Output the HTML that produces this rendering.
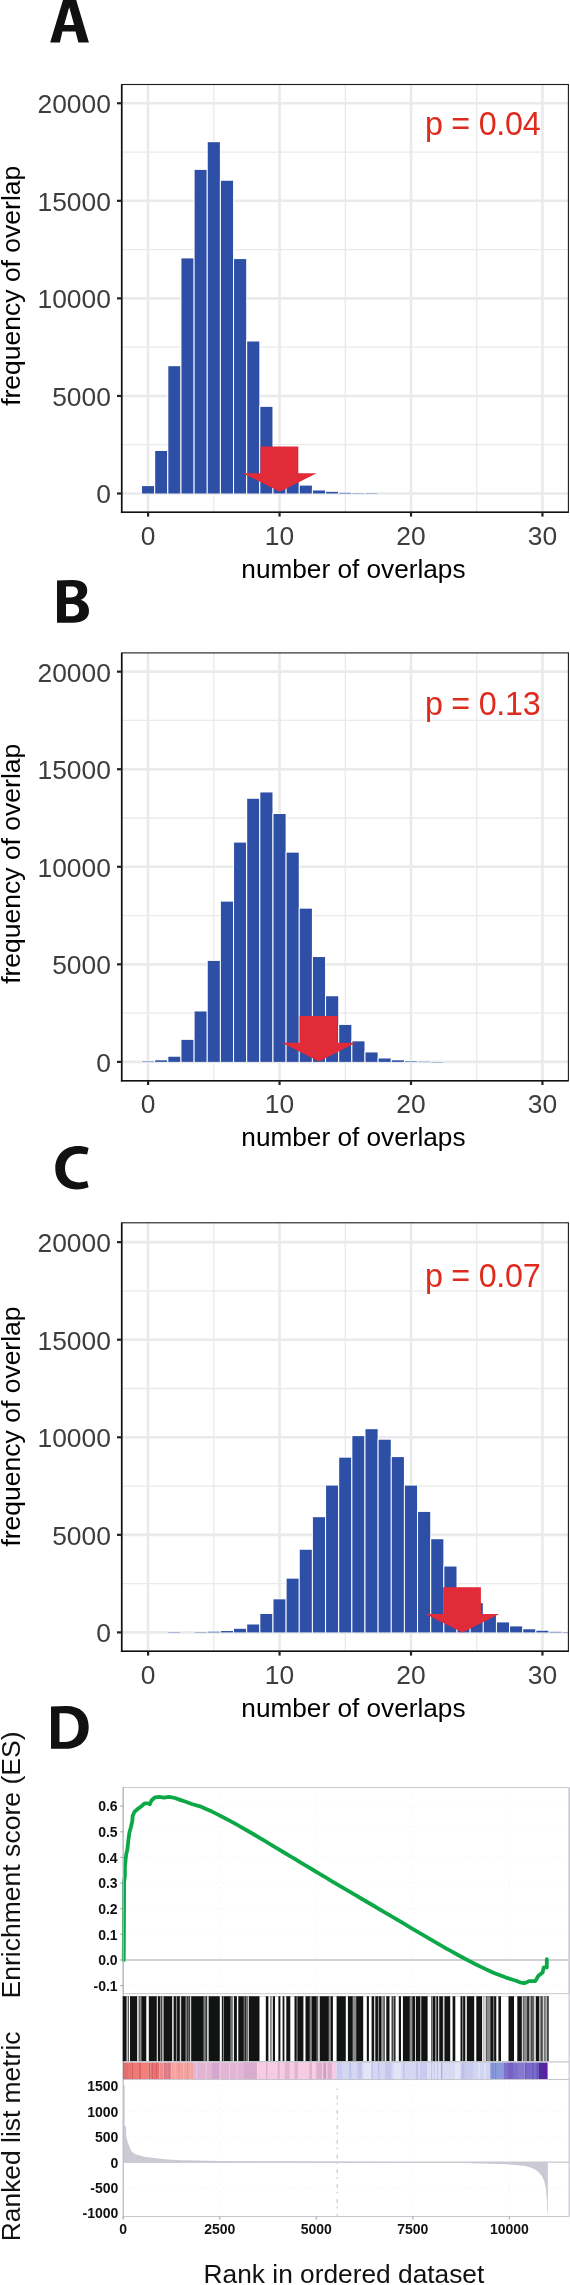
<!DOCTYPE html>
<html><head><meta charset="utf-8"><style>
html,body{margin:0;padding:0;background:#fff;}
svg{display:block;}
text{font-family:"Liberation Sans", sans-serif;}
</style></head><body>
<svg style="will-change:transform" width="570" height="2285" viewBox="0 0 570 2285">
<rect width="570" height="2285" fill="#fff"/>
<g>
<clipPath id="clipA"><rect x="121.7" y="84.5" width="446.7" height="427.8"/></clipPath>
<g clip-path="url(#clipA)">
<line x1="121.7" x2="568.4" y1="444.72" y2="444.72" stroke="#E9EAEA" stroke-width="1.3"/>
<line x1="121.7" x2="568.4" y1="347.16" y2="347.16" stroke="#E9EAEA" stroke-width="1.3"/>
<line x1="121.7" x2="568.4" y1="249.6" y2="249.6" stroke="#E9EAEA" stroke-width="1.3"/>
<line x1="121.7" x2="568.4" y1="152.04" y2="152.04" stroke="#E9EAEA" stroke-width="1.3"/>
<line x1="213.82" x2="213.82" y1="84.5" y2="512.3" stroke="#E9EAEA" stroke-width="1.3"/>
<line x1="345.27" x2="345.27" y1="84.5" y2="512.3" stroke="#E9EAEA" stroke-width="1.3"/>
<line x1="476.73" x2="476.73" y1="84.5" y2="512.3" stroke="#E9EAEA" stroke-width="1.3"/>
<line x1="121.7" x2="568.4" y1="493.5" y2="493.5" stroke="#E9EAEA" stroke-width="2.6"/>
<line x1="121.7" x2="568.4" y1="395.94" y2="395.94" stroke="#E9EAEA" stroke-width="2.6"/>
<line x1="121.7" x2="568.4" y1="298.38" y2="298.38" stroke="#E9EAEA" stroke-width="2.6"/>
<line x1="121.7" x2="568.4" y1="200.82" y2="200.82" stroke="#E9EAEA" stroke-width="2.6"/>
<line x1="121.7" x2="568.4" y1="103.26" y2="103.26" stroke="#E9EAEA" stroke-width="2.6"/>
<line x1="148.1" x2="148.1" y1="84.5" y2="512.3" stroke="#E9EAEA" stroke-width="2.6"/>
<line x1="279.55" x2="279.55" y1="84.5" y2="512.3" stroke="#E9EAEA" stroke-width="2.6"/>
<line x1="411" x2="411" y1="84.5" y2="512.3" stroke="#E9EAEA" stroke-width="2.6"/>
<line x1="542.45" x2="542.45" y1="84.5" y2="512.3" stroke="#E9EAEA" stroke-width="2.6"/>
<rect x="141.03" y="485.29" width="14.14" height="8.21" fill="#fff"/>
<rect x="142.03" y="486.09" width="12.14" height="7.41" fill="#2E4FA6"/>
<rect x="154.17" y="450.19" width="14.14" height="43.31" fill="#fff"/>
<rect x="155.17" y="450.99" width="12.14" height="42.51" fill="#2E4FA6"/>
<rect x="167.32" y="365.39" width="14.14" height="128.11" fill="#fff"/>
<rect x="168.32" y="366.19" width="12.14" height="127.31" fill="#2E4FA6"/>
<rect x="180.46" y="257.59" width="14.14" height="235.91" fill="#fff"/>
<rect x="181.46" y="258.39" width="12.14" height="235.11" fill="#2E4FA6"/>
<rect x="193.61" y="169.1" width="14.14" height="324.4" fill="#fff"/>
<rect x="194.61" y="169.9" width="12.14" height="323.6" fill="#2E4FA6"/>
<rect x="206.75" y="141.39" width="14.14" height="352.11" fill="#fff"/>
<rect x="207.75" y="142.19" width="12.14" height="351.31" fill="#2E4FA6"/>
<rect x="219.9" y="179.97" width="14.14" height="313.53" fill="#fff"/>
<rect x="220.9" y="180.77" width="12.14" height="312.73" fill="#2E4FA6"/>
<rect x="233.04" y="258.27" width="14.14" height="235.23" fill="#fff"/>
<rect x="234.04" y="259.07" width="12.14" height="234.43" fill="#2E4FA6"/>
<rect x="246.19" y="340.69" width="14.14" height="152.81" fill="#fff"/>
<rect x="247.19" y="341.49" width="12.14" height="152.01" fill="#2E4FA6"/>
<rect x="259.33" y="406.09" width="14.14" height="87.41" fill="#fff"/>
<rect x="260.33" y="406.89" width="12.14" height="86.61" fill="#2E4FA6"/>
<rect x="272.48" y="449.1" width="14.14" height="44.4" fill="#fff"/>
<rect x="273.48" y="449.9" width="12.14" height="43.6" fill="#2E4FA6"/>
<rect x="285.62" y="473.49" width="14.14" height="20.01" fill="#fff"/>
<rect x="286.62" y="474.29" width="12.14" height="19.21" fill="#2E4FA6"/>
<rect x="298.77" y="484.8" width="14.14" height="8.7" fill="#fff"/>
<rect x="299.77" y="485.6" width="12.14" height="7.9" fill="#2E4FA6"/>
<rect x="311.91" y="489.68" width="14.14" height="3.82" fill="#fff"/>
<rect x="312.91" y="490.48" width="12.14" height="3.02" fill="#2E4FA6"/>
<rect x="325.06" y="491.05" width="14.14" height="2.45" fill="#fff"/>
<rect x="326.06" y="491.85" width="12.14" height="1.65" fill="#2E4FA6"/>
<rect x="338.2" y="492.02" width="14.14" height="1.48" fill="#fff"/>
<rect x="339.2" y="492.82" width="12.14" height="0.68" fill="#2E4FA6"/>
<rect x="351.35" y="492.45" width="14.14" height="1.05" fill="#fff"/>
<rect x="352.35" y="493.25" width="12.14" height="0.35" fill="#2E4FA6"/>
<rect x="364.49" y="492.69" width="14.14" height="0.81" fill="#fff"/>
<rect x="365.49" y="493.49" width="12.14" height="0.35" fill="#2E4FA6"/>
<polygon points="260.5,446.4 298.3,446.4 298.3,473.2 316.6,473.2 280,491.8 242.8,473.2 260.5,473.2" fill="#E22B38"/>
</g>
<text x="425.0" y="135.4" font-size="32.3" fill="#DF2A1E" textLength="115.65" lengthAdjust="spacing">p = 0.04</text>
<rect x="121.7" y="84.5" width="446.7" height="427.8" fill="none" stroke="#1a1a1a" stroke-width="1.1"/>
<line x1="121.7" x2="121.7" y1="84.5" y2="513.1" stroke="#111" stroke-width="1.6"/>
<line x1="120.9" x2="568.4" y1="512.3" y2="512.3" stroke="#111" stroke-width="1.6"/>
<line x1="117" x2="121.7" y1="493.5" y2="493.5" stroke="#222" stroke-width="2.2"/>
<text x="110.9" y="503.4" font-size="26.4" fill="#3D3D3D" text-anchor="end">0</text>
<line x1="117" x2="121.7" y1="395.94" y2="395.94" stroke="#222" stroke-width="2.2"/>
<text x="110.9" y="405.84" font-size="26.4" fill="#3D3D3D" text-anchor="end">5000</text>
<line x1="117" x2="121.7" y1="298.38" y2="298.38" stroke="#222" stroke-width="2.2"/>
<text x="110.9" y="308.28" font-size="26.4" fill="#3D3D3D" text-anchor="end">10000</text>
<line x1="117" x2="121.7" y1="200.82" y2="200.82" stroke="#222" stroke-width="2.2"/>
<text x="110.9" y="210.72" font-size="26.4" fill="#3D3D3D" text-anchor="end">15000</text>
<line x1="117" x2="121.7" y1="103.26" y2="103.26" stroke="#222" stroke-width="2.2"/>
<text x="110.9" y="113.16" font-size="26.4" fill="#3D3D3D" text-anchor="end">20000</text>
<line x1="148.1" x2="148.1" y1="512.3" y2="516.6" stroke="#222" stroke-width="2.2"/>
<text x="148.1" y="544.8" font-size="26.4" fill="#3D3D3D" text-anchor="middle">0</text>
<line x1="279.55" x2="279.55" y1="512.3" y2="516.6" stroke="#222" stroke-width="2.2"/>
<text x="279.55" y="544.8" font-size="26.4" fill="#3D3D3D" text-anchor="middle">10</text>
<line x1="411" x2="411" y1="512.3" y2="516.6" stroke="#222" stroke-width="2.2"/>
<text x="411" y="544.8" font-size="26.4" fill="#3D3D3D" text-anchor="middle">20</text>
<line x1="542.45" x2="542.45" y1="512.3" y2="516.6" stroke="#222" stroke-width="2.2"/>
<text x="542.45" y="544.8" font-size="26.4" fill="#3D3D3D" text-anchor="middle">30</text>
<text x="353.4" y="577.9" font-size="26.2" fill="#000" text-anchor="middle">number of overlaps</text>
<text transform="translate(20,285.8) rotate(-90)" font-size="26.5" fill="#000" text-anchor="middle">frequency of overlap</text>
</g>
<g>
<clipPath id="clipB"><rect x="121.7" y="652.9" width="446.7" height="427.8"/></clipPath>
<g clip-path="url(#clipB)">
<line x1="121.7" x2="568.4" y1="1013.12" y2="1013.12" stroke="#E9EAEA" stroke-width="1.3"/>
<line x1="121.7" x2="568.4" y1="915.56" y2="915.56" stroke="#E9EAEA" stroke-width="1.3"/>
<line x1="121.7" x2="568.4" y1="818" y2="818" stroke="#E9EAEA" stroke-width="1.3"/>
<line x1="121.7" x2="568.4" y1="720.44" y2="720.44" stroke="#E9EAEA" stroke-width="1.3"/>
<line x1="213.82" x2="213.82" y1="652.9" y2="1080.7" stroke="#E9EAEA" stroke-width="1.3"/>
<line x1="345.27" x2="345.27" y1="652.9" y2="1080.7" stroke="#E9EAEA" stroke-width="1.3"/>
<line x1="476.73" x2="476.73" y1="652.9" y2="1080.7" stroke="#E9EAEA" stroke-width="1.3"/>
<line x1="121.7" x2="568.4" y1="1061.9" y2="1061.9" stroke="#E9EAEA" stroke-width="2.6"/>
<line x1="121.7" x2="568.4" y1="964.34" y2="964.34" stroke="#E9EAEA" stroke-width="2.6"/>
<line x1="121.7" x2="568.4" y1="866.78" y2="866.78" stroke="#E9EAEA" stroke-width="2.6"/>
<line x1="121.7" x2="568.4" y1="769.22" y2="769.22" stroke="#E9EAEA" stroke-width="2.6"/>
<line x1="121.7" x2="568.4" y1="671.66" y2="671.66" stroke="#E9EAEA" stroke-width="2.6"/>
<line x1="148.1" x2="148.1" y1="652.9" y2="1080.7" stroke="#E9EAEA" stroke-width="2.6"/>
<line x1="279.55" x2="279.55" y1="652.9" y2="1080.7" stroke="#E9EAEA" stroke-width="2.6"/>
<line x1="411" x2="411" y1="652.9" y2="1080.7" stroke="#E9EAEA" stroke-width="2.6"/>
<line x1="542.45" x2="542.45" y1="652.9" y2="1080.7" stroke="#E9EAEA" stroke-width="2.6"/>
<rect x="141.03" y="1060.62" width="14.14" height="1.28" fill="#fff"/>
<rect x="142.03" y="1061.42" width="12.14" height="0.48" fill="#2E4FA6"/>
<rect x="154.17" y="1059.51" width="14.14" height="2.39" fill="#fff"/>
<rect x="155.17" y="1060.31" width="12.14" height="1.59" fill="#2E4FA6"/>
<rect x="167.32" y="1055.94" width="14.14" height="5.96" fill="#fff"/>
<rect x="168.32" y="1056.74" width="12.14" height="5.16" fill="#2E4FA6"/>
<rect x="180.46" y="1039.08" width="14.14" height="22.82" fill="#fff"/>
<rect x="181.46" y="1039.88" width="12.14" height="22.02" fill="#2E4FA6"/>
<rect x="193.61" y="1010.67" width="14.14" height="51.23" fill="#fff"/>
<rect x="194.61" y="1011.47" width="12.14" height="50.43" fill="#2E4FA6"/>
<rect x="206.75" y="960.13" width="14.14" height="101.77" fill="#fff"/>
<rect x="207.75" y="960.93" width="12.14" height="100.97" fill="#2E4FA6"/>
<rect x="219.9" y="900.82" width="14.14" height="161.08" fill="#fff"/>
<rect x="220.9" y="901.62" width="12.14" height="160.28" fill="#2E4FA6"/>
<rect x="233.04" y="841.79" width="14.14" height="220.11" fill="#fff"/>
<rect x="234.04" y="842.59" width="12.14" height="219.31" fill="#2E4FA6"/>
<rect x="246.19" y="797.99" width="14.14" height="263.91" fill="#fff"/>
<rect x="247.19" y="798.79" width="12.14" height="263.11" fill="#2E4FA6"/>
<rect x="259.33" y="791.65" width="14.14" height="270.25" fill="#fff"/>
<rect x="260.33" y="792.45" width="12.14" height="269.45" fill="#2E4FA6"/>
<rect x="272.48" y="813.21" width="14.14" height="248.69" fill="#fff"/>
<rect x="273.48" y="814.01" width="12.14" height="247.89" fill="#2E4FA6"/>
<rect x="285.62" y="851.84" width="14.14" height="210.06" fill="#fff"/>
<rect x="286.62" y="852.64" width="12.14" height="209.26" fill="#2E4FA6"/>
<rect x="298.77" y="907.84" width="14.14" height="154.06" fill="#fff"/>
<rect x="299.77" y="908.64" width="12.14" height="153.26" fill="#2E4FA6"/>
<rect x="311.91" y="956.23" width="14.14" height="105.67" fill="#fff"/>
<rect x="312.91" y="957.03" width="12.14" height="104.87" fill="#2E4FA6"/>
<rect x="325.06" y="995.45" width="14.14" height="66.45" fill="#fff"/>
<rect x="326.06" y="996.25" width="12.14" height="65.65" fill="#2E4FA6"/>
<rect x="338.2" y="1024.13" width="14.14" height="37.77" fill="#fff"/>
<rect x="339.2" y="1024.93" width="12.14" height="36.97" fill="#2E4FA6"/>
<rect x="351.35" y="1040.52" width="14.14" height="21.38" fill="#fff"/>
<rect x="352.35" y="1041.32" width="12.14" height="20.58" fill="#2E4FA6"/>
<rect x="364.49" y="1051.64" width="14.14" height="10.26" fill="#fff"/>
<rect x="365.49" y="1052.44" width="12.14" height="9.46" fill="#2E4FA6"/>
<rect x="377.64" y="1057.69" width="14.14" height="4.21" fill="#fff"/>
<rect x="378.64" y="1058.49" width="12.14" height="3.41" fill="#2E4FA6"/>
<rect x="390.78" y="1059.51" width="14.14" height="2.39" fill="#fff"/>
<rect x="391.78" y="1060.31" width="12.14" height="1.59" fill="#2E4FA6"/>
<rect x="403.93" y="1060.52" width="14.14" height="1.38" fill="#fff"/>
<rect x="404.93" y="1061.32" width="12.14" height="0.58" fill="#2E4FA6"/>
<rect x="417.07" y="1060.91" width="14.14" height="0.99" fill="#fff"/>
<rect x="418.07" y="1061.71" width="12.14" height="0.35" fill="#2E4FA6"/>
<rect x="430.22" y="1061.11" width="14.14" height="0.79" fill="#fff"/>
<rect x="431.22" y="1061.91" width="12.14" height="0.35" fill="#2E4FA6"/>
<polygon points="299.6,1016 337.4,1016 337.4,1042.8 355.7,1042.8 319.1,1061.4 281.9,1042.8 299.6,1042.8" fill="#E22B38"/>
</g>
<text x="425.0" y="715.2" font-size="32.3" fill="#DF2A1E" textLength="115.65" lengthAdjust="spacing">p = 0.13</text>
<rect x="121.7" y="652.9" width="446.7" height="427.8" fill="none" stroke="#1a1a1a" stroke-width="1.1"/>
<line x1="121.7" x2="121.7" y1="652.9" y2="1081.5" stroke="#111" stroke-width="1.6"/>
<line x1="120.9" x2="568.4" y1="1080.7" y2="1080.7" stroke="#111" stroke-width="1.6"/>
<line x1="117" x2="121.7" y1="1061.9" y2="1061.9" stroke="#222" stroke-width="2.2"/>
<text x="110.9" y="1071.8" font-size="26.4" fill="#3D3D3D" text-anchor="end">0</text>
<line x1="117" x2="121.7" y1="964.34" y2="964.34" stroke="#222" stroke-width="2.2"/>
<text x="110.9" y="974.24" font-size="26.4" fill="#3D3D3D" text-anchor="end">5000</text>
<line x1="117" x2="121.7" y1="866.78" y2="866.78" stroke="#222" stroke-width="2.2"/>
<text x="110.9" y="876.68" font-size="26.4" fill="#3D3D3D" text-anchor="end">10000</text>
<line x1="117" x2="121.7" y1="769.22" y2="769.22" stroke="#222" stroke-width="2.2"/>
<text x="110.9" y="779.12" font-size="26.4" fill="#3D3D3D" text-anchor="end">15000</text>
<line x1="117" x2="121.7" y1="671.66" y2="671.66" stroke="#222" stroke-width="2.2"/>
<text x="110.9" y="681.56" font-size="26.4" fill="#3D3D3D" text-anchor="end">20000</text>
<line x1="148.1" x2="148.1" y1="1080.7" y2="1085" stroke="#222" stroke-width="2.2"/>
<text x="148.1" y="1113.2" font-size="26.4" fill="#3D3D3D" text-anchor="middle">0</text>
<line x1="279.55" x2="279.55" y1="1080.7" y2="1085" stroke="#222" stroke-width="2.2"/>
<text x="279.55" y="1113.2" font-size="26.4" fill="#3D3D3D" text-anchor="middle">10</text>
<line x1="411" x2="411" y1="1080.7" y2="1085" stroke="#222" stroke-width="2.2"/>
<text x="411" y="1113.2" font-size="26.4" fill="#3D3D3D" text-anchor="middle">20</text>
<line x1="542.45" x2="542.45" y1="1080.7" y2="1085" stroke="#222" stroke-width="2.2"/>
<text x="542.45" y="1113.2" font-size="26.4" fill="#3D3D3D" text-anchor="middle">30</text>
<text x="353.4" y="1146.3" font-size="26.2" fill="#000" text-anchor="middle">number of overlaps</text>
<text transform="translate(20,863.8) rotate(-90)" font-size="26.5" fill="#000" text-anchor="middle">frequency of overlap</text>
</g>
<g>
<clipPath id="clipC"><rect x="121.7" y="1222.8" width="446.7" height="428.5"/></clipPath>
<g clip-path="url(#clipC)">
<line x1="121.7" x2="568.4" y1="1583.62" y2="1583.62" stroke="#E9EAEA" stroke-width="1.3"/>
<line x1="121.7" x2="568.4" y1="1486.06" y2="1486.06" stroke="#E9EAEA" stroke-width="1.3"/>
<line x1="121.7" x2="568.4" y1="1388.5" y2="1388.5" stroke="#E9EAEA" stroke-width="1.3"/>
<line x1="121.7" x2="568.4" y1="1290.94" y2="1290.94" stroke="#E9EAEA" stroke-width="1.3"/>
<line x1="213.82" x2="213.82" y1="1222.8" y2="1651.3" stroke="#E9EAEA" stroke-width="1.3"/>
<line x1="345.27" x2="345.27" y1="1222.8" y2="1651.3" stroke="#E9EAEA" stroke-width="1.3"/>
<line x1="476.73" x2="476.73" y1="1222.8" y2="1651.3" stroke="#E9EAEA" stroke-width="1.3"/>
<line x1="121.7" x2="568.4" y1="1632.4" y2="1632.4" stroke="#E9EAEA" stroke-width="2.6"/>
<line x1="121.7" x2="568.4" y1="1534.84" y2="1534.84" stroke="#E9EAEA" stroke-width="2.6"/>
<line x1="121.7" x2="568.4" y1="1437.28" y2="1437.28" stroke="#E9EAEA" stroke-width="2.6"/>
<line x1="121.7" x2="568.4" y1="1339.72" y2="1339.72" stroke="#E9EAEA" stroke-width="2.6"/>
<line x1="121.7" x2="568.4" y1="1242.16" y2="1242.16" stroke="#E9EAEA" stroke-width="2.6"/>
<line x1="148.1" x2="148.1" y1="1222.8" y2="1651.3" stroke="#E9EAEA" stroke-width="2.6"/>
<line x1="279.55" x2="279.55" y1="1222.8" y2="1651.3" stroke="#E9EAEA" stroke-width="2.6"/>
<line x1="411" x2="411" y1="1222.8" y2="1651.3" stroke="#E9EAEA" stroke-width="2.6"/>
<line x1="542.45" x2="542.45" y1="1222.8" y2="1651.3" stroke="#E9EAEA" stroke-width="2.6"/>
<rect x="167.32" y="1631.61" width="14.14" height="0.79" fill="#fff"/>
<rect x="168.32" y="1632.41" width="12.14" height="0.35" fill="#2E4FA6"/>
<rect x="193.61" y="1631.55" width="14.14" height="0.85" fill="#fff"/>
<rect x="194.61" y="1632.35" width="12.14" height="0.35" fill="#2E4FA6"/>
<rect x="206.75" y="1630.92" width="14.14" height="1.48" fill="#fff"/>
<rect x="207.75" y="1631.72" width="12.14" height="0.68" fill="#2E4FA6"/>
<rect x="219.9" y="1630.24" width="14.14" height="2.16" fill="#fff"/>
<rect x="220.9" y="1631.04" width="12.14" height="1.36" fill="#2E4FA6"/>
<rect x="233.04" y="1628" width="14.14" height="4.4" fill="#fff"/>
<rect x="234.04" y="1628.8" width="12.14" height="3.6" fill="#2E4FA6"/>
<rect x="246.19" y="1623.7" width="14.14" height="8.7" fill="#fff"/>
<rect x="247.19" y="1624.5" width="12.14" height="7.9" fill="#2E4FA6"/>
<rect x="259.33" y="1613.17" width="14.14" height="19.23" fill="#fff"/>
<rect x="260.33" y="1613.97" width="12.14" height="18.43" fill="#2E4FA6"/>
<rect x="272.48" y="1598.53" width="14.14" height="33.87" fill="#fff"/>
<rect x="273.48" y="1599.33" width="12.14" height="33.07" fill="#2E4FA6"/>
<rect x="285.62" y="1577.85" width="14.14" height="54.55" fill="#fff"/>
<rect x="286.62" y="1578.65" width="12.14" height="53.75" fill="#2E4FA6"/>
<rect x="298.77" y="1548.97" width="14.14" height="83.43" fill="#fff"/>
<rect x="299.77" y="1549.77" width="12.14" height="82.63" fill="#2E4FA6"/>
<rect x="311.91" y="1516.39" width="14.14" height="116.01" fill="#fff"/>
<rect x="312.91" y="1517.19" width="12.14" height="115.21" fill="#2E4FA6"/>
<rect x="325.06" y="1484.78" width="14.14" height="147.62" fill="#fff"/>
<rect x="326.06" y="1485.58" width="12.14" height="146.82" fill="#2E4FA6"/>
<rect x="338.2" y="1456.88" width="14.14" height="175.52" fill="#fff"/>
<rect x="339.2" y="1457.68" width="12.14" height="174.72" fill="#2E4FA6"/>
<rect x="351.35" y="1435.32" width="14.14" height="197.08" fill="#fff"/>
<rect x="352.35" y="1436.12" width="12.14" height="196.28" fill="#2E4FA6"/>
<rect x="364.49" y="1428.39" width="14.14" height="204.01" fill="#fff"/>
<rect x="365.49" y="1429.19" width="12.14" height="203.21" fill="#2E4FA6"/>
<rect x="377.64" y="1438.93" width="14.14" height="193.47" fill="#fff"/>
<rect x="378.64" y="1439.73" width="12.14" height="192.67" fill="#2E4FA6"/>
<rect x="390.78" y="1456.29" width="14.14" height="176.11" fill="#fff"/>
<rect x="391.78" y="1457.09" width="12.14" height="175.31" fill="#2E4FA6"/>
<rect x="403.93" y="1484.78" width="14.14" height="147.62" fill="#fff"/>
<rect x="404.93" y="1485.58" width="12.14" height="146.82" fill="#2E4FA6"/>
<rect x="417.07" y="1511.12" width="14.14" height="121.28" fill="#fff"/>
<rect x="418.07" y="1511.92" width="12.14" height="120.48" fill="#2E4FA6"/>
<rect x="430.22" y="1538.44" width="14.14" height="93.96" fill="#fff"/>
<rect x="431.22" y="1539.24" width="12.14" height="93.16" fill="#2E4FA6"/>
<rect x="443.36" y="1565.75" width="14.14" height="66.65" fill="#fff"/>
<rect x="444.36" y="1566.55" width="12.14" height="65.85" fill="#2E4FA6"/>
<rect x="456.51" y="1587.02" width="14.14" height="45.38" fill="#fff"/>
<rect x="457.51" y="1587.82" width="12.14" height="44.58" fill="#2E4FA6"/>
<rect x="469.65" y="1602.3" width="14.14" height="30.1" fill="#fff"/>
<rect x="470.65" y="1603.1" width="12.14" height="29.3" fill="#2E4FA6"/>
<rect x="482.8" y="1614.73" width="14.14" height="17.67" fill="#fff"/>
<rect x="483.8" y="1615.53" width="12.14" height="16.87" fill="#2E4FA6"/>
<rect x="495.94" y="1621.6" width="14.14" height="10.8" fill="#fff"/>
<rect x="496.94" y="1622.4" width="12.14" height="10" fill="#2E4FA6"/>
<rect x="509.09" y="1625.6" width="14.14" height="6.8" fill="#fff"/>
<rect x="510.09" y="1626.4" width="12.14" height="6" fill="#2E4FA6"/>
<rect x="522.23" y="1628.49" width="14.14" height="3.91" fill="#fff"/>
<rect x="523.23" y="1629.29" width="12.14" height="3.11" fill="#2E4FA6"/>
<rect x="535.38" y="1629.95" width="14.14" height="2.45" fill="#fff"/>
<rect x="536.38" y="1630.75" width="12.14" height="1.65" fill="#2E4FA6"/>
<rect x="548.52" y="1631.02" width="14.14" height="1.38" fill="#fff"/>
<rect x="549.52" y="1631.82" width="12.14" height="0.58" fill="#2E4FA6"/>
<rect x="561.67" y="1631.31" width="14.14" height="1.09" fill="#fff"/>
<rect x="562.67" y="1632.11" width="12.14" height="0.35" fill="#2E4FA6"/>
<polygon points="443.1,1587.2 480.9,1587.2 480.9,1614 499.2,1614 462.6,1632.6 425.4,1614 443.1,1614" fill="#E22B38"/>
</g>
<text x="425.0" y="1287.2" font-size="32.3" fill="#DF2A1E" textLength="115.65" lengthAdjust="spacing">p = 0.07</text>
<rect x="121.7" y="1222.8" width="446.7" height="428.5" fill="none" stroke="#1a1a1a" stroke-width="1.1"/>
<line x1="121.7" x2="121.7" y1="1222.8" y2="1652.1" stroke="#111" stroke-width="1.6"/>
<line x1="120.9" x2="568.4" y1="1651.3" y2="1651.3" stroke="#111" stroke-width="1.6"/>
<line x1="117" x2="121.7" y1="1632.4" y2="1632.4" stroke="#222" stroke-width="2.2"/>
<text x="110.9" y="1642.3" font-size="26.4" fill="#3D3D3D" text-anchor="end">0</text>
<line x1="117" x2="121.7" y1="1534.84" y2="1534.84" stroke="#222" stroke-width="2.2"/>
<text x="110.9" y="1544.74" font-size="26.4" fill="#3D3D3D" text-anchor="end">5000</text>
<line x1="117" x2="121.7" y1="1437.28" y2="1437.28" stroke="#222" stroke-width="2.2"/>
<text x="110.9" y="1447.18" font-size="26.4" fill="#3D3D3D" text-anchor="end">10000</text>
<line x1="117" x2="121.7" y1="1339.72" y2="1339.72" stroke="#222" stroke-width="2.2"/>
<text x="110.9" y="1349.62" font-size="26.4" fill="#3D3D3D" text-anchor="end">15000</text>
<line x1="117" x2="121.7" y1="1242.16" y2="1242.16" stroke="#222" stroke-width="2.2"/>
<text x="110.9" y="1252.06" font-size="26.4" fill="#3D3D3D" text-anchor="end">20000</text>
<line x1="148.1" x2="148.1" y1="1651.3" y2="1655.6" stroke="#222" stroke-width="2.2"/>
<text x="148.1" y="1683.8" font-size="26.4" fill="#3D3D3D" text-anchor="middle">0</text>
<line x1="279.55" x2="279.55" y1="1651.3" y2="1655.6" stroke="#222" stroke-width="2.2"/>
<text x="279.55" y="1683.8" font-size="26.4" fill="#3D3D3D" text-anchor="middle">10</text>
<line x1="411" x2="411" y1="1651.3" y2="1655.6" stroke="#222" stroke-width="2.2"/>
<text x="411" y="1683.8" font-size="26.4" fill="#3D3D3D" text-anchor="middle">20</text>
<line x1="542.45" x2="542.45" y1="1651.3" y2="1655.6" stroke="#222" stroke-width="2.2"/>
<text x="542.45" y="1683.8" font-size="26.4" fill="#3D3D3D" text-anchor="middle">30</text>
<text x="353.4" y="1716.9" font-size="26.2" fill="#000" text-anchor="middle">number of overlaps</text>
<text transform="translate(20,1426.5) rotate(-90)" font-size="26.5" fill="#000" text-anchor="middle">frequency of overlap</text>
</g>
<path d="M50.2,42.6 L63.3,-1 L75.9,-1 L88.9,42.6 L78.4,42.6 L75.5,31.6 L62.4,31.6 L59.9,42.6 Z M69.2,7.2 L64.1,25.1 L74.2,25.1 Z" fill="#111" fill-rule="evenodd"/>
<path d="M57,580.4 L72.5,580.1 C82.3,580.1 87.2,584.2 87.2,590.4 C87.2,595 84.6,598.2 80.6,599.8 C85.6,601.2 89,605.2 89,611 C89,618.6 83,622.8 72.5,622.8 L57,622.8 Z M66,586.5 L71.4,586.5 C75.6,586.5 77.9,588.4 77.9,591.7 C77.9,595.2 75.1,597.4 70.6,597.4 L66,597.4 Z M66,604 L71.6,604 C76.4,604 79.1,606.3 79.1,610 C79.1,614 76.1,616.3 71.1,616.3 L66,616.3 Z" fill="#111" fill-rule="evenodd"/>
<path d="M88.6,1147.9 C85,1146.6 81.5,1146 78,1146 C64.5,1146 55.3,1155 55.3,1168.3 C55.3,1181 63.8,1189.4 76.5,1189.4 C81.5,1189.4 85.5,1188.5 88.6,1187.3 L87.1,1181.1 C84.5,1182 81.5,1182.4 78.8,1182.4 C70.5,1182.4 65,1177 65,1168.3 C65,1159.5 70.8,1153.7 78.8,1153.7 C82,1153.7 84.8,1154 87.1,1154.5 Z" fill="#111" fill-rule="evenodd"/>
<path d="M51,1706.4 L66,1705.9 C80.5,1705.9 88.7,1713.5 88.7,1726.8 C88.7,1741 79.5,1748.8 65.5,1748.8 L51,1748.8 Z M59.5,1713.3 L65,1713.3 C74,1713.3 78.6,1718.5 78.6,1727 C78.6,1736.6 73.5,1742 64.5,1742 L59.5,1742 Z" fill="#111" fill-rule="evenodd"/>
<line x1="123.2" x2="569.2" y1="1806.1" y2="1806.1" stroke="#F4F4F7" stroke-width="1" stroke-dasharray="1.5,4"/>
<line x1="123.2" x2="569.2" y1="1831.75" y2="1831.75" stroke="#F4F4F7" stroke-width="1" stroke-dasharray="1.5,4"/>
<line x1="123.2" x2="569.2" y1="1857.4" y2="1857.4" stroke="#F4F4F7" stroke-width="1" stroke-dasharray="1.5,4"/>
<line x1="123.2" x2="569.2" y1="1883.05" y2="1883.05" stroke="#F4F4F7" stroke-width="1" stroke-dasharray="1.5,4"/>
<line x1="123.2" x2="569.2" y1="1908.7" y2="1908.7" stroke="#F4F4F7" stroke-width="1" stroke-dasharray="1.5,4"/>
<line x1="123.2" x2="569.2" y1="1934.35" y2="1934.35" stroke="#F4F4F7" stroke-width="1" stroke-dasharray="1.5,4"/>
<line x1="123.2" x2="569.2" y1="1985.65" y2="1985.65" stroke="#F4F4F7" stroke-width="1" stroke-dasharray="1.5,4"/>
<line x1="219.75" x2="219.75" y1="1787.5" y2="1993.6" stroke="#F4F4F7" stroke-width="1" stroke-dasharray="1.5,4"/>
<line x1="316.3" x2="316.3" y1="1787.5" y2="1993.6" stroke="#F4F4F7" stroke-width="1" stroke-dasharray="1.5,4"/>
<line x1="412.85" x2="412.85" y1="1787.5" y2="1993.6" stroke="#F4F4F7" stroke-width="1" stroke-dasharray="1.5,4"/>
<line x1="509.4" x2="509.4" y1="1787.5" y2="1993.6" stroke="#F4F4F7" stroke-width="1" stroke-dasharray="1.5,4"/>
<line x1="123.2" x2="569.2" y1="1960" y2="1960" stroke="#C0C0C8" stroke-width="1.3"/>
<rect x="123.2" y="1787.5" width="446" height="206.1" fill="none" stroke="#CDCDD5" stroke-width="1.1"/>
<line x1="120.3" x2="123.2" y1="1806.1" y2="1806.1" stroke="#A8A8B4" stroke-width="1.2"/>
<text x="117.6" y="1811.3" font-size="14" font-weight="bold" fill="#111" text-anchor="end">0.6</text>
<line x1="120.3" x2="123.2" y1="1831.75" y2="1831.75" stroke="#A8A8B4" stroke-width="1.2"/>
<text x="117.6" y="1836.95" font-size="14" font-weight="bold" fill="#111" text-anchor="end">0.5</text>
<line x1="120.3" x2="123.2" y1="1857.4" y2="1857.4" stroke="#A8A8B4" stroke-width="1.2"/>
<text x="117.6" y="1862.6" font-size="14" font-weight="bold" fill="#111" text-anchor="end">0.4</text>
<line x1="120.3" x2="123.2" y1="1883.05" y2="1883.05" stroke="#A8A8B4" stroke-width="1.2"/>
<text x="117.6" y="1888.25" font-size="14" font-weight="bold" fill="#111" text-anchor="end">0.3</text>
<line x1="120.3" x2="123.2" y1="1908.7" y2="1908.7" stroke="#A8A8B4" stroke-width="1.2"/>
<text x="117.6" y="1913.9" font-size="14" font-weight="bold" fill="#111" text-anchor="end">0.2</text>
<line x1="120.3" x2="123.2" y1="1934.35" y2="1934.35" stroke="#A8A8B4" stroke-width="1.2"/>
<text x="117.6" y="1939.55" font-size="14" font-weight="bold" fill="#111" text-anchor="end">0.1</text>
<line x1="120.3" x2="123.2" y1="1960" y2="1960" stroke="#A8A8B4" stroke-width="1.2"/>
<text x="117.6" y="1965.2" font-size="14" font-weight="bold" fill="#111" text-anchor="end">0.0</text>
<line x1="120.3" x2="123.2" y1="1985.65" y2="1985.65" stroke="#A8A8B4" stroke-width="1.2"/>
<text x="117.6" y="1990.85" font-size="14" font-weight="bold" fill="#111" text-anchor="end">-0.1</text>
<polyline points="123.7,1960 123.9,1935 124,1905 124.1,1882 124.9,1876 124.9,1867 125.6,1859.5 126.4,1853.6 127.5,1848.5 128.3,1840.5 129.4,1832.5 130.8,1827.5 132.3,1821 132.7,1815.7 134.5,1811.7 137.5,1809.1 141.1,1806.5 144.6,1803.4 148.1,1803.4 149.8,1804.3 151.6,1800.3 155.1,1797.3 159.5,1796.8 163.9,1797.7 169.1,1796.8 175,1798 179.4,1799.6 185,1801.5 191.7,1804 200,1806.3 206,1808.9 212,1811.6 218,1814.6 224,1817.7 230,1820.9 236,1824.2 242,1827.6 248,1831 254,1834.5 260,1838.1 266,1841.7 272,1845.3 278,1848.9 284,1852.5 290,1856.1 296,1859.7 302,1863.3 308,1866.9 314,1870.5 320,1874.1 326,1877.7 332,1881.3 338,1884.8 344,1888.4 350,1891.9 356,1895.4 362,1899 368,1902.5 374,1906 380,1909.6 386,1913.1 392,1916.6 398,1920.2 404,1923.7 410,1927.3 416,1930.8 422,1934.3 428,1937.8 434,1941.3 440,1944.8 446,1948.3 452,1951.6 458,1955 464,1958.2 470,1961.4 476,1964.5 482,1967.4 488,1970.2 494,1972.9 500,1975.3 506,1977.6 512,1979.5 516,1980.7 520.5,1982.5 523.7,1983.2 526,1982.6 528.9,1981.1 535.3,1981.1 538.4,1975.8 542.6,1972.6 543.7,1967.4 546.8,1967.4 546.8,1959.2" fill="none" stroke="#0CA848" stroke-width="3.8" stroke-linejoin="round" stroke-linecap="round"/>
<rect x="123.4" y="1996.2" width="425.1" height="65.1" fill="#111413"/>
<rect x="126.5" y="1996.2" width="1.4" height="65.1" fill="#D4D4D4"/>
<rect x="128.7" y="1996.2" width="1.3" height="65.1" fill="#FFFFFF"/>
<rect x="137.2" y="1996.2" width="1.5" height="65.1" fill="#FFFFFF"/>
<rect x="139.3" y="1996.2" width="2.2" height="65.1" fill="#8C8C8C"/>
<rect x="146.3" y="1996.2" width="2.5" height="65.1" fill="#FFFFFF"/>
<rect x="156.8" y="1996.2" width="1" height="65.1" fill="#FFFFFF"/>
<rect x="160" y="1996.2" width="1.4" height="65.1" fill="#8C8C8C"/>
<rect x="162.2" y="1996.2" width="1.4" height="65.1" fill="#D4D4D4"/>
<rect x="172.2" y="1996.2" width="1.4" height="65.1" fill="#FFFFFF"/>
<rect x="175.9" y="1996.2" width="1.2" height="65.1" fill="#8C8C8C"/>
<rect x="179.8" y="1996.2" width="1.4" height="65.1" fill="#D4D4D4"/>
<rect x="185.5" y="1996.2" width="1.4" height="65.1" fill="#8C8C8C"/>
<rect x="187.7" y="1996.2" width="1" height="65.1" fill="#8C8C8C"/>
<rect x="189.8" y="1996.2" width="1.4" height="65.1" fill="#D4D4D4"/>
<rect x="203.5" y="1996.2" width="1.4" height="65.1" fill="#8C8C8C"/>
<rect x="205.3" y="1996.2" width="1" height="65.1" fill="#8C8C8C"/>
<rect x="207.2" y="1996.2" width="1.4" height="65.1" fill="#FFFFFF"/>
<rect x="219.8" y="1996.2" width="2" height="65.1" fill="#FFFFFF"/>
<rect x="222.9" y="1996.2" width="1" height="65.1" fill="#8C8C8C"/>
<rect x="230.4" y="1996.2" width="1.4" height="65.1" fill="#8C8C8C"/>
<rect x="232.5" y="1996.2" width="1.4" height="65.1" fill="#FFFFFF"/>
<rect x="236.9" y="1996.2" width="1.4" height="65.1" fill="#FFFFFF"/>
<rect x="243.7" y="1996.2" width="1" height="65.1" fill="#8C8C8C"/>
<rect x="245.8" y="1996.2" width="1" height="65.1" fill="#8C8C8C"/>
<rect x="247.5" y="1996.2" width="1.4" height="65.1" fill="#D4D4D4"/>
<rect x="259.5" y="1996.2" width="6.3" height="65.1" fill="#FFFFFF"/>
<rect x="268.4" y="1996.2" width="2.1" height="65.1" fill="#FFFFFF"/>
<rect x="271.4" y="1996.2" width="1.4" height="65.1" fill="#FFFFFF"/>
<rect x="275" y="1996.2" width="3.4" height="65.1" fill="#FFFFFF"/>
<rect x="280.4" y="1996.2" width="2.2" height="65.1" fill="#FFFFFF"/>
<rect x="284.4" y="1996.2" width="1.9" height="65.1" fill="#FFFFFF"/>
<rect x="290.3" y="1996.2" width="4.2" height="65.1" fill="#FFFFFF"/>
<rect x="296.5" y="1996.2" width="1.1" height="65.1" fill="#8C8C8C"/>
<rect x="303.4" y="1996.2" width="2.1" height="65.1" fill="#FFFFFF"/>
<rect x="309.7" y="1996.2" width="2.1" height="65.1" fill="#8C8C8C"/>
<rect x="316.6" y="1996.2" width="1" height="65.1" fill="#8C8C8C"/>
<rect x="318.2" y="1996.2" width="1.5" height="65.1" fill="#FFFFFF"/>
<rect x="328.7" y="1996.2" width="2.1" height="65.1" fill="#8C8C8C"/>
<rect x="332.9" y="1996.2" width="3.7" height="65.1" fill="#FFFFFF"/>
<rect x="345.8" y="1996.2" width="2.1" height="65.1" fill="#FFFFFF"/>
<rect x="352.6" y="1996.2" width="3.7" height="65.1" fill="#8C8C8C"/>
<rect x="363.2" y="1996.2" width="3.6" height="65.1" fill="#FFFFFF"/>
<rect x="368.9" y="1996.2" width="2.7" height="65.1" fill="#FFFFFF"/>
<rect x="374.2" y="1996.2" width="1.1" height="65.1" fill="#FFFFFF"/>
<rect x="377.9" y="1996.2" width="1.1" height="65.1" fill="#8C8C8C"/>
<rect x="381.6" y="1996.2" width="1" height="65.1" fill="#FFFFFF"/>
<rect x="383.2" y="1996.2" width="1" height="65.1" fill="#8C8C8C"/>
<rect x="384.7" y="1996.2" width="1.6" height="65.1" fill="#FFFFFF"/>
<rect x="389.5" y="1996.2" width="2.1" height="65.1" fill="#FFFFFF"/>
<rect x="392.6" y="1996.2" width="1.6" height="65.1" fill="#8C8C8C"/>
<rect x="395.5" y="1996.2" width="3.3" height="65.1" fill="#FFFFFF"/>
<rect x="401" y="1996.2" width="1.9" height="65.1" fill="#FFFFFF"/>
<rect x="409.7" y="1996.2" width="2.7" height="65.1" fill="#8C8C8C"/>
<rect x="415" y="1996.2" width="1" height="65.1" fill="#D4D4D4"/>
<rect x="420.3" y="1996.2" width="1" height="65.1" fill="#D4D4D4"/>
<rect x="427.6" y="1996.2" width="3.7" height="65.1" fill="#FFFFFF"/>
<rect x="431.8" y="1996.2" width="1.1" height="65.1" fill="#8C8C8C"/>
<rect x="435" y="1996.2" width="1.6" height="65.1" fill="#8C8C8C"/>
<rect x="438.2" y="1996.2" width="1" height="65.1" fill="#FFFFFF"/>
<rect x="442.9" y="1996.2" width="1.6" height="65.1" fill="#D4D4D4"/>
<rect x="450.2" y="1996.2" width="2.4" height="65.1" fill="#FFFFFF"/>
<rect x="455.3" y="1996.2" width="5.2" height="65.1" fill="#FFFFFF"/>
<rect x="462.1" y="1996.2" width="1.1" height="65.1" fill="#8C8C8C"/>
<rect x="465.3" y="1996.2" width="1.5" height="65.1" fill="#FFFFFF"/>
<rect x="474.2" y="1996.2" width="2.1" height="65.1" fill="#FFFFFF"/>
<rect x="482.1" y="1996.2" width="1.6" height="65.1" fill="#FFFFFF"/>
<rect x="483.7" y="1996.2" width="2.6" height="65.1" fill="#D4D4D4"/>
<rect x="486.8" y="1996.2" width="3.7" height="65.1" fill="#8C8C8C"/>
<rect x="493.2" y="1996.2" width="1" height="65.1" fill="#8C8C8C"/>
<rect x="496.3" y="1996.2" width="2.1" height="65.1" fill="#FFFFFF"/>
<rect x="501" y="1996.2" width="7.5" height="65.1" fill="#FFFFFF"/>
<rect x="514" y="1996.2" width="3.3" height="65.1" fill="#FFFFFF"/>
<rect x="521.8" y="1996.2" width="1.5" height="65.1" fill="#D4D4D4"/>
<rect x="523.6" y="1996.2" width="3.7" height="65.1" fill="#8C8C8C"/>
<rect x="528.8" y="1996.2" width="2.2" height="65.1" fill="#9A9A9A"/>
<rect x="531.3" y="1996.2" width="2.1" height="65.1" fill="#606060"/>
<rect x="533.7" y="1996.2" width="2.2" height="65.1" fill="#D4D4D4"/>
<rect x="539" y="1996.2" width="1.8" height="65.1" fill="#AAAAAA"/>
<rect x="541.1" y="1996.2" width="1.2" height="65.1" fill="#505050"/>
<rect x="542.6" y="1996.2" width="1.9" height="65.1" fill="#D4D4D4"/>
<rect x="544.8" y="1996.2" width="0.9" height="65.1" fill="#8C8C8C"/>
<rect x="545.7" y="1996.2" width="1.2" height="65.1" fill="#D4D4D4"/>
<rect x="546.9" y="1996.2" width="1.6" height="65.1" fill="#444444"/>
<rect x="123.4" y="2062.4" width="4.6" height="16.8" fill="#E07070"/>
<rect x="128" y="2062.4" width="5" height="16.8" fill="#E87474"/>
<rect x="132.2" y="2062.4" width="0.8" height="16.8" fill="#D06060"/>
<rect x="133" y="2062.4" width="6" height="16.8" fill="#EE7A76"/>
<rect x="139" y="2062.4" width="2" height="16.8" fill="#D86868"/>
<rect x="141" y="2062.4" width="7.8" height="16.8" fill="#F47E78"/>
<rect x="148.8" y="2062.4" width="1.4" height="16.8" fill="#C86060"/>
<rect x="150.2" y="2062.4" width="9.1" height="16.8" fill="#E87272"/>
<rect x="152" y="2062.4" width="1" height="16.8" fill="#D86464"/>
<rect x="156" y="2062.4" width="1" height="16.8" fill="#D46262"/>
<rect x="159.3" y="2062.4" width="4.2" height="16.8" fill="#F08A90"/>
<rect x="163.5" y="2062.4" width="7.7" height="16.8" fill="#E2828A"/>
<rect x="164.5" y="2062.4" width="1" height="16.8" fill="#D07480"/>
<rect x="168.5" y="2062.4" width="1" height="16.8" fill="#D27684"/>
<rect x="171.2" y="2062.4" width="21.8" height="16.8" fill="#F4A2A0"/>
<rect x="174.5" y="2062.4" width="1" height="16.8" fill="#F8B0AC"/>
<rect x="178.5" y="2062.4" width="1" height="16.8" fill="#E89490"/>
<rect x="183" y="2062.4" width="1" height="16.8" fill="#F8B0AC"/>
<rect x="187" y="2062.4" width="1" height="16.8" fill="#E89692"/>
<rect x="190" y="2062.4" width="1" height="16.8" fill="#F8B0AC"/>
<rect x="193" y="2062.4" width="64.5" height="16.8" fill="#E0B6D4"/>
<rect x="196" y="2062.4" width="1" height="16.8" fill="#F0C8E0"/>
<rect x="205.6" y="2062.4" width="1.2" height="16.8" fill="#F0C8E0"/>
<rect x="212" y="2062.4" width="7" height="16.8" fill="#D4A8CC"/>
<rect x="219.8" y="2062.4" width="1" height="16.8" fill="#F0C8E0"/>
<rect x="229" y="2062.4" width="1" height="16.8" fill="#F0C8E0"/>
<rect x="236.6" y="2062.4" width="1" height="16.8" fill="#F0C8E0"/>
<rect x="244" y="2062.4" width="12.7" height="16.8" fill="#D8ACCE"/>
<rect x="257.5" y="2062.4" width="79.2" height="16.8" fill="#F6CCE2"/>
<rect x="266" y="2062.4" width="1.3" height="16.8" fill="#DCB0D0"/>
<rect x="277.7" y="2062.4" width="2.1" height="16.8" fill="#E0B4D0"/>
<rect x="284.7" y="2062.4" width="4.9" height="16.8" fill="#E2B6D2"/>
<rect x="294.6" y="2062.4" width="3.4" height="16.8" fill="#E0B4D0"/>
<rect x="309.3" y="2062.4" width="2.7" height="16.8" fill="#DEB2D0"/>
<rect x="316.3" y="2062.4" width="5.7" height="16.8" fill="#DCB0CE"/>
<rect x="323.3" y="2062.4" width="2.8" height="16.8" fill="#C8A0C0"/>
<rect x="327.5" y="2062.4" width="4.3" height="16.8" fill="#DAAECE"/>
<rect x="336.7" y="2062.4" width="153.5" height="16.8" fill="#D4D6F2"/>
<rect x="336.7" y="2062.4" width="5.3" height="16.8" fill="#C8CCF0"/>
<rect x="349.2" y="2062.4" width="2.1" height="16.8" fill="#C0C4EA"/>
<rect x="357.6" y="2062.4" width="4.2" height="16.8" fill="#C2C6EC"/>
<rect x="363.2" y="2062.4" width="7.8" height="16.8" fill="#E2E4F8"/>
<rect x="371.7" y="2062.4" width="1.3" height="16.8" fill="#C0C4EA"/>
<rect x="378" y="2062.4" width="1.4" height="16.8" fill="#C0C4EA"/>
<rect x="385" y="2062.4" width="6.3" height="16.8" fill="#C4C8EC"/>
<rect x="393.4" y="2062.4" width="7.7" height="16.8" fill="#E2E4F8"/>
<rect x="403.2" y="2062.4" width="1.4" height="16.8" fill="#C0C4EA"/>
<rect x="415.9" y="2062.4" width="2.1" height="16.8" fill="#C0C4EA"/>
<rect x="420" y="2062.4" width="7" height="16.8" fill="#C8CAEE"/>
<rect x="427" y="2062.4" width="14" height="16.8" fill="#DCDEF6"/>
<rect x="431" y="2062.4" width="1" height="16.8" fill="#C4C6EC"/>
<rect x="433.6" y="2062.4" width="1" height="16.8" fill="#C4C6EC"/>
<rect x="437" y="2062.4" width="1" height="16.8" fill="#C4C6EC"/>
<rect x="441" y="2062.4" width="1.5" height="16.8" fill="#A8ACE0"/>
<rect x="442.5" y="2062.4" width="12.5" height="16.8" fill="#D8DAF4"/>
<rect x="455" y="2062.4" width="5.7" height="16.8" fill="#E4E6F8"/>
<rect x="460.7" y="2062.4" width="5.6" height="16.8" fill="#C4C8EE"/>
<rect x="462.5" y="2062.4" width="1" height="16.8" fill="#B4B8E6"/>
<rect x="466.3" y="2062.4" width="7" height="16.8" fill="#C8CCF0"/>
<rect x="473.3" y="2062.4" width="16.9" height="16.8" fill="#D2D4F2"/>
<rect x="478" y="2062.4" width="2" height="16.8" fill="#DEE0F6"/>
<rect x="484" y="2062.4" width="2" height="16.8" fill="#DEE0F6"/>
<rect x="490.2" y="2062.4" width="13.1" height="16.8" fill="#8A9ADA"/>
<rect x="492.3" y="2062.4" width="1" height="16.8" fill="#7888D0"/>
<rect x="495.1" y="2062.4" width="1" height="16.8" fill="#7888D0"/>
<rect x="503.3" y="2062.4" width="21.1" height="16.8" fill="#8070CA"/>
<rect x="508.2" y="2062.4" width="5" height="16.8" fill="#7462C4"/>
<rect x="518" y="2062.4" width="5.6" height="16.8" fill="#8878D0"/>
<rect x="524.4" y="2062.4" width="14" height="16.8" fill="#7A6ACA"/>
<rect x="525" y="2062.4" width="1.5" height="16.8" fill="#6C5CC0"/>
<rect x="532" y="2062.4" width="1.5" height="16.8" fill="#6C5CC0"/>
<rect x="536.4" y="2062.4" width="2" height="16.8" fill="#6858BE"/>
<rect x="538.4" y="2062.4" width="4.6" height="16.8" fill="#4E2CA0"/>
<rect x="543" y="2062.4" width="4.6" height="16.8" fill="#5A20A8"/>
<line x1="123.2" x2="569.2" y1="2061.9" y2="2061.9" stroke="#C6C6CE" stroke-width="1.1"/>
<line x1="123.2" x2="569.2" y1="2079.5" y2="2079.5" stroke="#C6C6CE" stroke-width="1.1"/>
<line x1="123.2" x2="569.2" y1="2085.95" y2="2085.95" stroke="#F4F4F7" stroke-width="1" stroke-dasharray="1.5,4"/>
<line x1="123.2" x2="569.2" y1="2111.4" y2="2111.4" stroke="#F4F4F7" stroke-width="1" stroke-dasharray="1.5,4"/>
<line x1="123.2" x2="569.2" y1="2136.85" y2="2136.85" stroke="#F4F4F7" stroke-width="1" stroke-dasharray="1.5,4"/>
<line x1="123.2" x2="569.2" y1="2187.75" y2="2187.75" stroke="#F4F4F7" stroke-width="1" stroke-dasharray="1.5,4"/>
<line x1="219.75" x2="219.75" y1="2079.6" y2="2216.5" stroke="#F4F4F7" stroke-width="1" stroke-dasharray="1.5,4"/>
<line x1="412.85" x2="412.85" y1="2079.6" y2="2216.5" stroke="#F4F4F7" stroke-width="1" stroke-dasharray="1.5,4"/>
<line x1="509.4" x2="509.4" y1="2079.6" y2="2216.5" stroke="#F4F4F7" stroke-width="1" stroke-dasharray="1.5,4"/>
<line x1="337.2" x2="337.2" y1="2088.2" y2="2216.5" stroke="#C4C4D0" stroke-width="1.1" stroke-dasharray="1.8,5.3,4,3.7"/>
<polygon points="123.6,2162.5 123.6,2085.5 124.6,2085.5 124.6,2125.8 126,2126.5 126.3,2136.6 127.6,2141.8 129.7,2147.6 131.8,2151.8 136,2154.5 140.3,2155.5 145,2156.9 148,2157.2 156,2158.3 168,2159.6 180,2160.2 197,2160.6 230,2161.2 300,2161.5 462.6,2162.3 462.6,2163 506.8,2164.3 523.7,2165.8 530,2167.2 534.2,2169 538,2171.5 540.5,2174.2 542.5,2177.2 544.3,2181.6 545.8,2187.9 546.8,2198 547.3,2211 547.6,2213.3 547.9,2213.3 547.9,2162.3" fill="#C9CAD3"/>
<line x1="123.2" x2="569.2" y1="2162.2" y2="2162.2" stroke="#C6C6D0" stroke-width="1.2"/>
<line x1="123.2" x2="123.2" y1="1787" y2="2218.5" stroke="#B6B6C4" stroke-width="1.2"/>
<line x1="569.2" x2="569.2" y1="1787.5" y2="2216.5" stroke="#C6C6CE" stroke-width="1.2"/>
<line x1="123.2" x2="569.2" y1="2216.5" y2="2216.5" stroke="#C6C6CE" stroke-width="1.2"/>
<rect x="122.7" y="1996.2" width="1.5" height="65.1" fill="#111413"/>
<rect x="122.9" y="2062.4" width="1.3" height="16.8" fill="#D86464"/>
<text x="118.4" y="2091.15" font-size="14" font-weight="bold" fill="#111" text-anchor="end">1500</text>
<text x="118.4" y="2116.6" font-size="14" font-weight="bold" fill="#111" text-anchor="end">1000</text>
<text x="118.4" y="2142.05" font-size="14" font-weight="bold" fill="#111" text-anchor="end">500</text>
<text x="118.4" y="2167.5" font-size="14" font-weight="bold" fill="#111" text-anchor="end">0</text>
<text x="118.4" y="2192.95" font-size="14" font-weight="bold" fill="#111" text-anchor="end">-500</text>
<text x="118.4" y="2218.4" font-size="14" font-weight="bold" fill="#111" text-anchor="end">-1000</text>
<line x1="123.2" x2="123.2" y1="2216.5" y2="2219.5" stroke="#B0B0BC" stroke-width="1.2"/>
<text x="123.2" y="2233.5" font-size="14" font-weight="bold" fill="#111" text-anchor="middle">0</text>
<line x1="219.75" x2="219.75" y1="2216.5" y2="2219.5" stroke="#B0B0BC" stroke-width="1.2"/>
<text x="219.75" y="2233.5" font-size="14" font-weight="bold" fill="#111" text-anchor="middle">2500</text>
<line x1="316.3" x2="316.3" y1="2216.5" y2="2219.5" stroke="#B0B0BC" stroke-width="1.2"/>
<text x="316.3" y="2233.5" font-size="14" font-weight="bold" fill="#111" text-anchor="middle">5000</text>
<line x1="412.85" x2="412.85" y1="2216.5" y2="2219.5" stroke="#B0B0BC" stroke-width="1.2"/>
<text x="412.85" y="2233.5" font-size="14" font-weight="bold" fill="#111" text-anchor="middle">7500</text>
<line x1="509.4" x2="509.4" y1="2216.5" y2="2219.5" stroke="#B0B0BC" stroke-width="1.2"/>
<text x="509.4" y="2233.5" font-size="14" font-weight="bold" fill="#111" text-anchor="middle">10000</text>
<text x="203.6" y="2283.4" font-size="26.3" fill="#111">Rank in ordered dataset</text>
<text transform="translate(19.8,1865) rotate(-90)" font-size="26.55" fill="#111" text-anchor="middle">Enrichment score (ES)</text>
<text transform="translate(19.6,2136.4) rotate(-90)" font-size="26.4" fill="#111" text-anchor="middle">Ranked list metric</text>
</svg>
</body></html>
